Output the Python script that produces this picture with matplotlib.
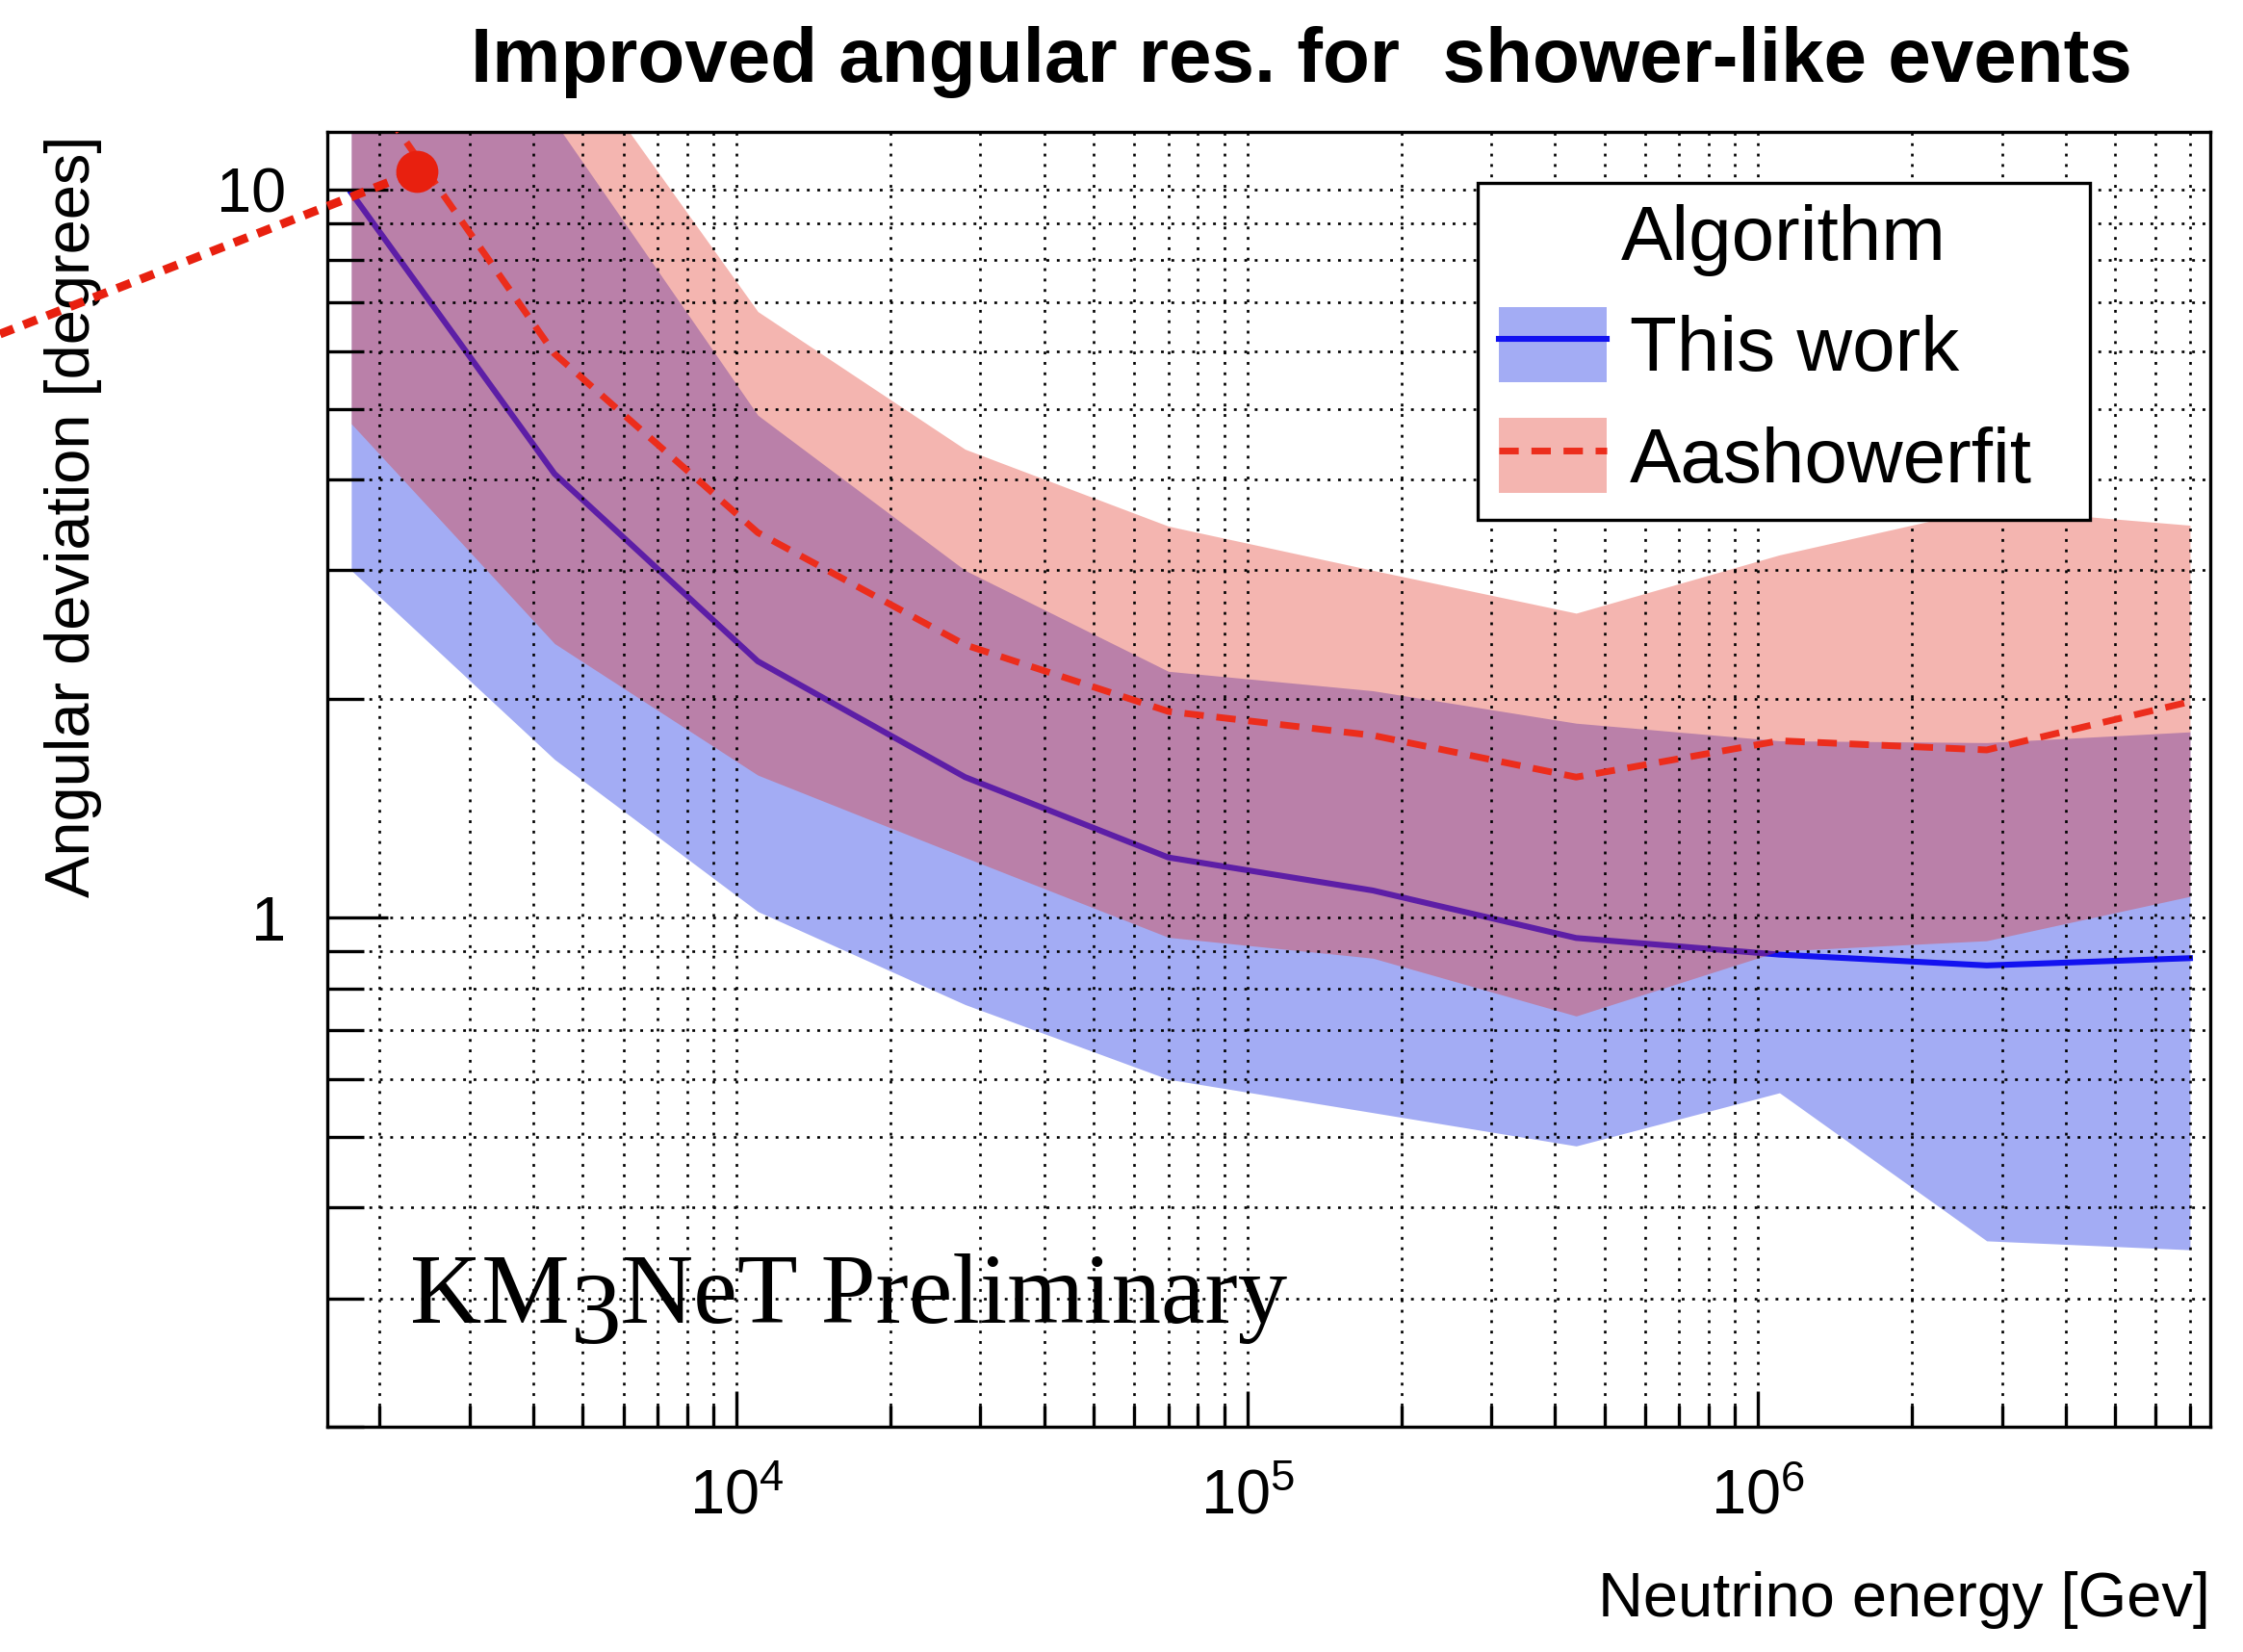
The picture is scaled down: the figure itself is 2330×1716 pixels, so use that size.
import numpy as np
import matplotlib
matplotlib.use("Agg")
import matplotlib.pyplot as plt
from matplotlib.patches import Patch, ConnectionPatch
from matplotlib.lines import Line2D
from matplotlib.ticker import FixedLocator, FixedFormatter, LogLocator, NullFormatter

plt.rcParams['font.family'] = ['Liberation Sans', 'DejaVu Sans']
plt.rcParams['mathtext.fontset'] = 'custom'
plt.rcParams['mathtext.rm'] = 'Liberation Sans'
plt.rcParams['mathtext.it'] = 'Liberation Sans:italic'
plt.rcParams['mathtext.bf'] = 'Liberation Sans:bold'

# ---- data: bin centres in neutrino energy and angular-deviation bands ----
energy_gev = [1.76e3, 4.4e3, 1.1e4, 2.8e4, 7.0e4, 1.76e5, 4.4e5, 1.1e6, 2.8e6, 7.0e6]

this_work_median = [9.9, 4.07, 2.25, 1.56, 1.21, 1.09, 0.938, 0.89, 0.86, 0.88]
this_work_upper = [18.0, 12.4, 4.9, 3.0, 2.18, 2.05, 1.85, 1.75, 1.74, 1.80]
this_work_lower = [3.0, 1.65, 1.02, 0.76, 0.60, 0.54, 0.486, 0.575, 0.36, 0.35]

aashowerfit_median = [14.9, 5.95, 3.38, 2.37, 1.92, 1.78, 1.56, 1.75, 1.70, 1.98]
aashowerfit_upper = [30.0, 16.7, 6.8, 4.4, 3.45, 3.0, 2.62, 3.15, 3.65, 3.46]
aashowerfit_lower = [4.77, 2.38, 1.57, 1.21, 0.94, 0.88, 0.733, 0.90, 0.93, 1.07]

series_labels = ["This work", "Aashowerfit"]
legend_title = "Algorithm"

x_major_ticks = [1e4, 1e5, 1e6]
x_major_labels = [r"$\mathregular{10^{4}}$", r"$\mathregular{10^{5}}$", r"$\mathregular{10^{6}}$"]
y_major_ticks = [1, 10]
y_major_labels = ["1", "10"]

# highlighted point on the Aashowerfit curve
highlight_energy = 2.37e3
highlight_deviation = 10.6

# ---- figure ----
W, H, DPI = 2330, 1716, 100
fig = plt.figure(figsize=(W / DPI, H / DPI), dpi=DPI)
fig.patch.set_facecolor("white")

ax_left, ax_right, ax_top, ax_bottom = 340, 2296, 137, 1482
ax = fig.add_axes([ax_left / W, 1 - ax_bottom / H,
                   (ax_right - ax_left) / W, (ax_bottom - ax_top) / H])
ax.set_xscale("log")
ax.set_yscale("log")
ax.set_xlim(1580, 7.67e6)
ax.set_ylim(0.2, 12)

blue_fill = "#a3acf4"
blue_line = "#1212f0"
red_fill = (227 / 255, 52 / 255, 36 / 255)
red_alpha = 0.36
red_line = "#ec2d1c"
blue_lw = 4.4
red_lw = 5.0
red_dash = (0, (2.9, 1.9))

ax.fill_between(energy_gev, this_work_lower, this_work_upper,
                color=blue_fill, lw=0, zorder=1)
ax.plot(energy_gev, this_work_median, color=blue_line, lw=blue_lw, zorder=1.2)
ax.fill_between(energy_gev, aashowerfit_lower, aashowerfit_upper,
                color=red_fill, alpha=red_alpha, lw=0, zorder=1.4)
ax.plot(energy_gev, aashowerfit_median, color=red_line, lw=red_lw,
        ls=red_dash, zorder=3)

# ---- axes, ticks, grid ----
ax.xaxis.set_major_locator(FixedLocator(x_major_ticks))
ax.xaxis.set_major_formatter(FixedFormatter(x_major_labels))
ax.xaxis.set_minor_locator(LogLocator(base=10, subs=np.arange(2, 10), numticks=30))
ax.xaxis.set_minor_formatter(NullFormatter())
ax.yaxis.set_major_locator(FixedLocator(y_major_ticks))
ax.yaxis.set_major_formatter(FixedFormatter(y_major_labels))
ax.yaxis.set_minor_locator(LogLocator(base=10, subs=np.arange(2, 10), numticks=30))
ax.yaxis.set_minor_formatter(NullFormatter())

ax.tick_params(axis="both", which="both", direction="in", top=False, right=False,
               color="black", width=2.4)
ax.tick_params(axis="y", which="major", length=45, pad=31, labelsize=46.8)
ax.tick_params(axis="y", which="minor", length=27)
ax.tick_params(axis="x", which="major", length=27, pad=31, labelsize=46.8)
ax.tick_params(axis="x", which="minor", length=16)

ax.set_axisbelow(False)
ax.grid(True, which="both", color="black", lw=1.9, ls=(0, (1.1, 3.0)))
for sp in ax.spines.values():
    sp.set_linewidth(2.4)
    sp.set_color("black")

# ---- texts ----
fig.text(1352 / W, 1 - 85 / H, "Improved angular res. for  shower-like events",
         ha="center", va="baseline", fontsize=57.6, fontweight="bold")
fig.text(ax_right / W, 1 - 1679 / H, "Neutrino energy [Gev]",
         ha="right", va="baseline", fontsize=46.8)
fig.text(106 / W, 1 - 141 / H, "Angular deviation [degrees]", rotation=90,
         ha="right", va="top", fontsize=46.8)

serif = ["Liberation Serif", "DejaVu Serif"]
km = fig.text(426 / W, 1 - 1374 / H, "KM", fontsize=74, family=serif,
              va="baseline", zorder=4)
three = ax.annotate("3", xy=(1, 0), xycoords=km, xytext=(0.5, -16),
                    textcoords="offset points", fontsize=76, family=serif,
                    va="bottom", ha="left", annotation_clip=False, zorder=4)
ax.annotate("NeT Preliminary", xy=(1, 0), xycoords=three, xytext=(0.5, 16),
            textcoords="offset points", fontsize=74, family=serif,
            va="bottom", ha="left", annotation_clip=False, zorder=4)

# ---- legend ----
h_blue = (Patch(facecolor=blue_fill, edgecolor="none"),
          Line2D([], [], color=blue_line, lw=blue_lw))
h_red = (Patch(facecolor=red_fill, alpha=red_alpha, edgecolor="none"),
         Line2D([], [], color=red_line, lw=red_lw, ls=red_dash))
leg_x0, leg_y0, leg_x1 = 1535, 190, 2171
leg = ax.legend([h_blue, h_red], series_labels, title=legend_title,
                loc="upper left",
                bbox_to_anchor=(leg_x0 / W, 1 - leg_y0 / H, (leg_x1 - leg_x0) / W, 0),
                bbox_transform=fig.transFigure, borderaxespad=0, mode="expand",
                fontsize=57.6, title_fontsize=57.6, frameon=True,
                fancybox=False, framealpha=1, edgecolor="black",
                borderpad=0.28, handlelength=1.39, handleheight=1.12,
                handletextpad=0.3, labelspacing=0.40)
leg.get_frame().set_linewidth(2.4)
leg.set_zorder(5)

# ---- highlighted point with leader ----
mark_color = "#e8200f"
leader = ConnectionPatch(xyA=(0, 1 - 347 / H), coordsA=fig.transFigure,
                         xyB=(highlight_energy, highlight_deviation),
                         coordsB=ax.transData, color=mark_color, lw=6.5,
                         ls=(0, (1.67, 1.22)), capstyle="butt", zorder=6)
fig.add_artist(leader)
ax.plot([highlight_energy], [highlight_deviation], "o", ms=31.5,
        color=mark_color, mec="none", clip_on=False, zorder=7)

fig.savefig("out.png", dpi=DPI)
